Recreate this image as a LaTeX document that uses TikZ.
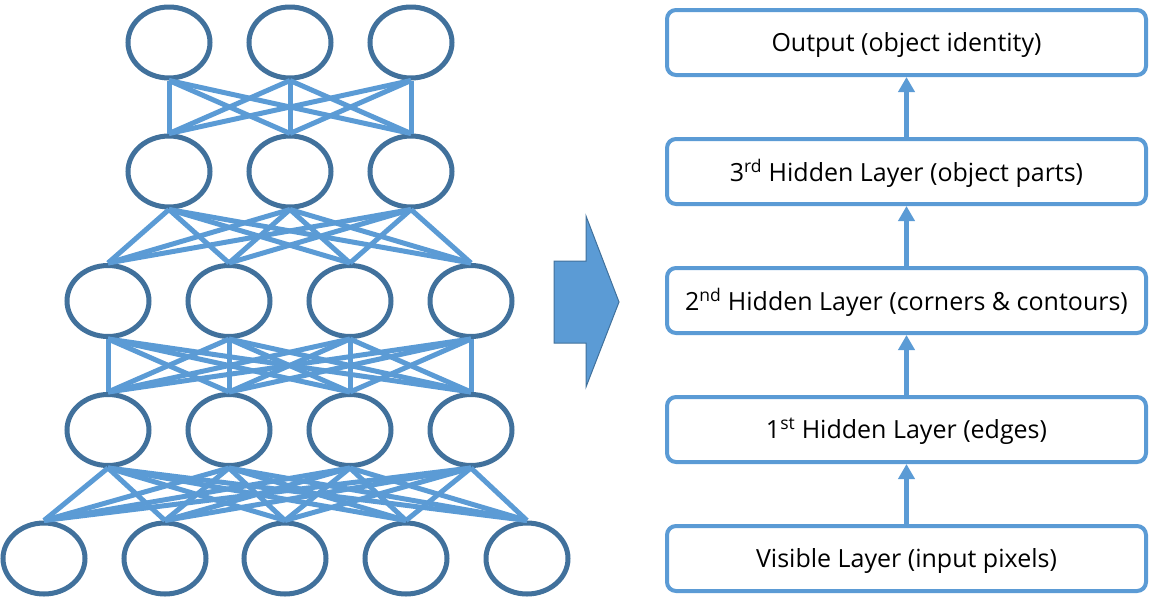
\documentclass[tikz,border=0pt]{standalone}
\usepackage{fontspec}
\setmainfont{Open Sans}
\usetikzlibrary{shapes.geometric,arrows.meta}
\definecolor{unitblue}{HTML}{41719C}
\definecolor{linkblue}{HTML}{5B9BD5}
\tikzset{
  unit/.style={ellipse,draw=unitblue,line width=5pt,minimum width=82pt,
    minimum height=71pt,inner sep=0pt,fill=white},
  link/.style={draw=linkblue,line width=5pt},
  layerbox/.style={draw=linkblue,line width=4pt,rounded corners=9pt,
    minimum width=479pt,minimum height=65pt,text=black,text depth=2pt,
    font=\fontsize{25}{30}\selectfont},
  up/.style={-{Triangle[width=16pt,length=15pt]},draw=linkblue,line width=4.5pt}
}
\begin{document}
\begin{tikzpicture}[x=1pt,y=-1pt]
      \useasboundingbox (0,0) rectangle (1149,603);
      % network
      \draw
        (169,42.5) node[unit] (a1){}
        (290,42.5) node[unit] (a2){}
        (411,42.5) node[unit] (a3){}
        (169,171.5) node[unit] (b1){}
        (290,171.5) node[unit] (b2){}
        (411,171.5) node[unit] (b3){}
        (108,301) node[unit] (c1){}
        (229,301) node[unit] (c2){}
        (350,301) node[unit] (c3){}
        (471,301) node[unit] (c4){}
        (108,430) node[unit] (d1){}
        (229,430) node[unit] (d2){}
        (350,430) node[unit] (d3){}
        (471,430) node[unit] (d4){}
        (44,558.5) node[unit] (e1){}
        (165,558.5) node[unit] (e2){}
        (285,558.5) node[unit] (e3){}
        (406,558.5) node[unit] (e4){}
        (527,558.5) node[unit] (e5){};
      \begin{scope}[link]
        \foreach \u in {a1,a2,a3}
          \foreach \v in {b1,b2,b3}
            \draw (\u.south) to (\v.north);
        \foreach \u in {b1,b2,b3}
          \foreach \v in {c1,c2,c3,c4}
            \draw (\u.south) to (\v.north);
        \foreach \u in {c1,c2,c3,c4}
          \foreach \v in {d1,d2,d3,d4}
            \draw (\u.south) to (\v.north);
        \foreach \u in {d1,d2,d3,d4}
          \foreach \v in {e1,e2,e3,e4,e5}
            \draw (\u.south) to (\v.north);
      \end{scope}
      % block arrow
      \draw[fill=linkblue,draw=unitblue,line width=1pt]
        (554,261) -- (586,261) -- (586,216) -- (619,302) -- (586,387)
        -- (586,343) -- (554,343) -- cycle;
      % layers
      \draw
        (906.5,42.5) node[layerbox] (out){Output (object identity)}
        (906.5,171.5) node[layerbox] (h3){3\textsuperscript{rd} Hidden Layer (object parts)}
        (906.5,300.5) node[layerbox] (h2){2\textsuperscript{nd} Hidden Layer (corners \& contours)}
        (906.5,429.5) node[layerbox] (h1){1\textsuperscript{st} Hidden Layer (edges)}
        (906.5,558.5) node[layerbox] (vis){Visible Layer (input pixels)};
      \begin{scope}[up]
        \draw (vis) to (h1);
        \draw (h1) to (h2);
        \draw (h2) to (h3);
        \draw (h3) to (out);
      \end{scope}
    \end{tikzpicture}
\end{document}
